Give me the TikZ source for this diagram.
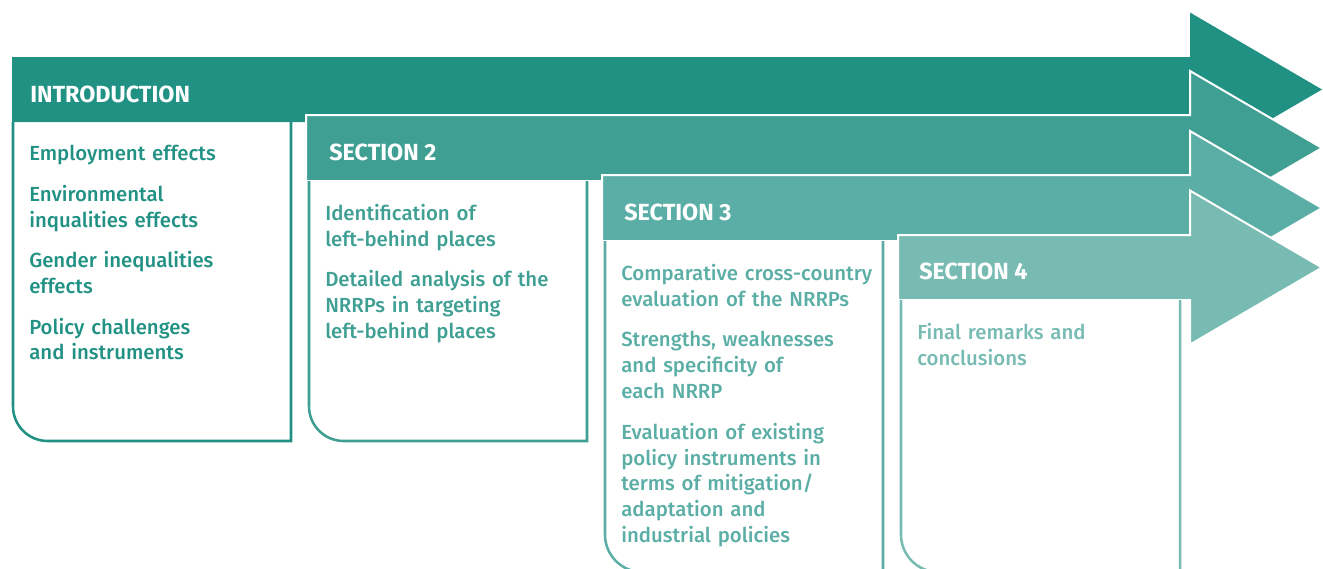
\documentclass[tikz,border=0pt]{standalone}
\usepackage{fontspec}
\setmainfont{Fira Sans}
\newfontfamily\medfont{Fira Sans Medium}
\usetikzlibrary{positioning}
\definecolor{tealA}{HTML}{219184}
\definecolor{tealB}{HTML}{3F9F93}
\definecolor{tealC}{HTML}{5BAEA5}
\definecolor{tealD}{HTML}{77BBB2}
\tikzset{
  head/.style={anchor=base west, inner sep=0pt, text=white, font=\fontsize{17.5}{20}\selectfont\bfseries},
  items/.style={anchor=north west, inner sep=0pt, text width=200pt, align=left, font=\fontsize{15.3}{19.4}\selectfont\medfont},
  boxline/.style={line width=1.9pt}
}
\begin{document}
\begin{tikzpicture} [x=0.75pt,y=-0.75pt]
\useasboundingbox (0,0) rectangle (1323,568);
\clip (0,0) rectangle (1323,568);
\fill [tealA] (12,57)--(1190,57)--(1190,12.5)--(1322,89.5)--(1190,166.5)--(1190,122)--(12,122)--cycle;
\filldraw [fill=tealB,draw=white,line width=1.5pt] (306,115)--(1190,115)--(1190,71)--(1322,148)--(1190,225)--(1190,181)--(306,181)--cycle;
\filldraw [fill=tealC,draw=white,line width=1.5pt] (602,175)--(1190,175)--(1190,131)--(1322,208)--(1190,285)--(1190,241)--(602,241)--cycle;
\filldraw [fill=tealD,draw=white,line width=1.5pt] (898,235)--(1190,235)--(1190,190.5)--(1322,267.5)--(1190,344.5)--(1190,300)--(898,300)--cycle;
\draw [tealA,boxline] (291,122)--(291,441) [rounded corners=26pt]--(13,441)--(13,122);
\draw [tealB,boxline] (587,181)--(587,441) [rounded corners=26pt]--(309,441)--(309,181);
\draw [tealC,boxline] (883,241)--(883,572) [rounded corners=28pt]--(605,572)--(605,241);
\draw [tealD,boxline] (1180,300)--(1180,572) [rounded corners=28pt]--(901,572)--(901,300);
\node [head] (intro) at (30,102) {INTRODUCTION};
\node [head] (sec2) at (329,160) {SECTION 2};
\node [head] (sec3) at (624,220) {SECTION 3};
\node [head] (sec4) at (919,279) {SECTION 4};
\node [items,text=tealA] (introlist) at (29,145) {Employment effects\\[11pt]
  Environmental\\inqualities effects\\[11pt]
  Gender inequalities\\effects\\[11pt]
  Policy challenges\\and instruments};
\node [items,text=tealB] (sec2list) at (325,204) {Identification of\\left-behind places\\[11pt]
  Detailed analysis of the\\NRRPs in targeting\\left-behind places};
\node [items,text=tealC] (sec3list) at (621,264) {Comparative cross-country\\evaluation of the NRRPs\\[11pt]
  Strengths, weaknesses\\and specificity of\\each NRRP\\[11pt]
  Evaluation of existing\\policy instruments in\\terms of mitigation/\\adaptation and\\industrial policies};
\node [items,text=tealD] (sec4list) at (917,323) {Final remarks and\\conclusions};
\end{tikzpicture}
\end{document}
